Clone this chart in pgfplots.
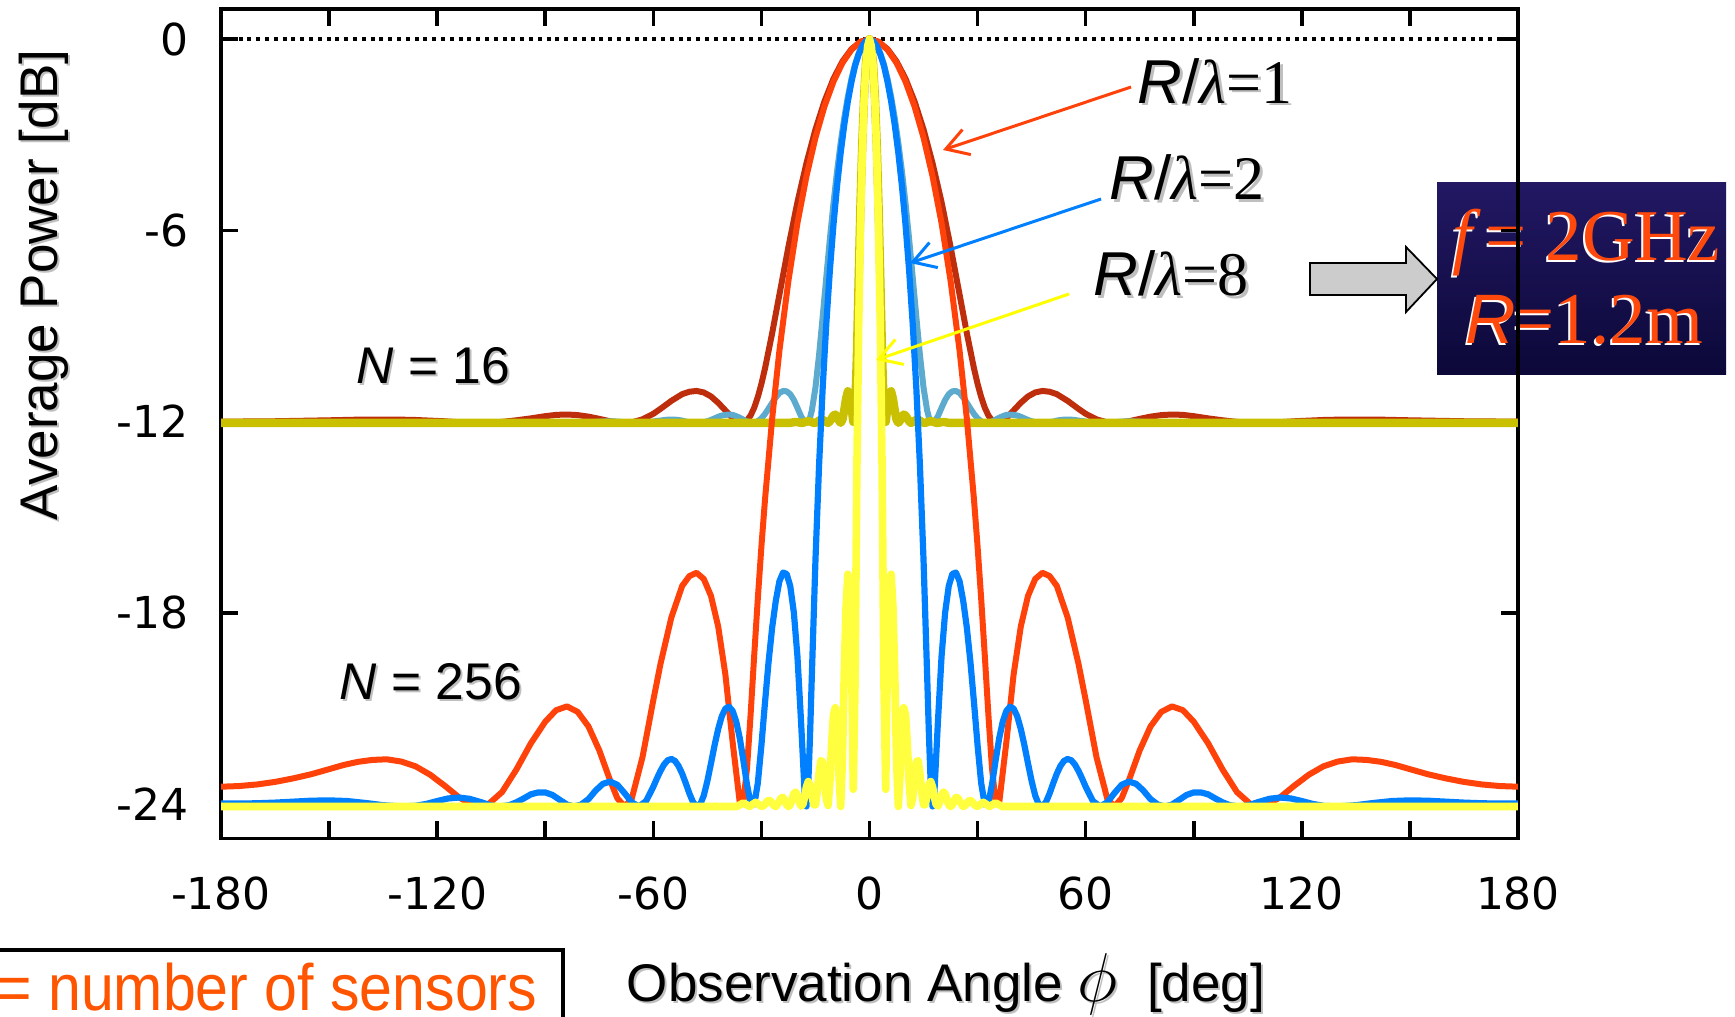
\documentclass[border=0pt]{standalone}
\usepackage{pgfplots}
\pgfplotsset{compat=1.18}
\usepackage{pgfplotstable}
\usepackage{fontspec}
\setmainfont{Liberation Sans}
\newfontfamily\dejavu{DejaVu Sans}
\newfontfamily\serifA{Liberation Serif}
\newfontfamily\legfont[FakeStretch=0.9]{Liberation Sans}
\usetikzlibrary{arrows.meta}

\definecolor{redA}{RGB}{255,66,10}
\definecolor{redB}{RGB}{190,45,12}
\definecolor{blueA}{RGB}{0,128,255}
\definecolor{blueB}{RGB}{92,170,205}
\definecolor{yelA}{RGB}{255,255,64}
\definecolor{yelB}{RGB}{200,192,0}
\definecolor{navyT}{RGB}{34,24,100}
\definecolor{navyB}{RGB}{12,8,56}
\definecolor{boxor}{RGB}{255,72,12}
\definecolor{legor}{RGB}{255,84,0}
\definecolor{arrgray}{RGB}{204,204,204}
\definecolor{arrY}{RGB}{255,255,0}

% phi = observation angle (deg, >=0 half), a = N=256, b = N=16 (dB)
\pgfplotstableread{
phi a b
0 0 0
2.5 -0.082 -0.077
5 -0.329 -0.309
7.5 -0.741 -0.694
10 -1.330 -1.240
12.5 -2.108 -1.951
15 -3.089 -2.832
17.5 -4.302 -3.890
20 -5.769 -5.112
22.5 -7.578 -6.513
25 -9.771 -8.012
27 -11.888 -9.217
29 -14.442 -10.330
30 -15.92 -10.815
31 -17.56 -11.23
32 -19.34 -11.563
33 -21.20 -11.81
34 -22.88 -11.96
35 -23.94 -12.03
36 -23.97 -12.03
38 -22.05 -11.89
40 -19.94 -11.65
42 -18.43 -11.41
44 -17.47 -11.21
46 -16.94 -11.086
48 -16.745 -11.038
50 -16.85 -11.064
52 -17.16 -11.14
55 -18.15 -11.35
58 -19.60 -11.60
60 -20.74 -11.756
63 -22.53 -11.93
66 -23.84 -12.026
68 -24.08 -12.04
70 -23.82 -12.02
72 -23.26 -11.99
75 -22.32 -11.915
78 -21.57 -11.845
81 -21.11 -11.797
84 -20.94 -11.778
87 -21.06 -11.79
90 -21.42 -11.83
94 -22.10 -11.90
98 -22.92 -11.96
102 -23.63 -12.01
106 -24.03 -12.04
108 -24.08 -12.04
110 -24.05 -12.04
114 -23.79 -12.02
118 -23.42 -11.99
122 -23.08 -11.97
126 -22.82 -11.95
130 -22.67 -11.94
134 -22.60 -11.94
138 -22.62 -11.94
142 -22.68 -11.94
146 -22.78 -11.95
150 -22.91 -11.96
155 -23.07 -11.97
160 -23.20 -11.98
165 -23.31 -11.99
170 -23.39 -11.99
175 -23.44 -12.00
180 -23.46 -12.00
}\redtab

\pgfplotstableread{
phi a b
0 0 0
1 -0.052 -0.049
2 -0.209 -0.196
3 -0.472 -0.443
4 -0.829 -0.791
5 -1.332 -1.241
6 -1.942 -1.801
7 -2.681 -2.468
8 -3.562 -3.249
9 -4.599 -4.142
10 -5.820 -5.153
11 -7.255 -6.273
12 -8.949 -7.478
13 -10.956 -8.718
14 -13.378 -9.911
15 -16.349 -10.934
16 -19.96 -11.652
16.5 -21.84 -11.87
17 -23.40 -12.00
17.5 -24.08 -12.04
18 -23.67 -12.02
19 -21.41 -11.83
20 -19.37 -11.57
21 -17.99 -11.32
22 -17.16 -11.14
23 -16.78 -11.05
24 -16.74 -11.04
25 -17.01 -11.10
26 -17.62 -11.24
27 -18.45 -11.41
28 -19.53 -11.59
29 -20.81 -11.76
30 -22.16 -11.90
31 -23.35 -11.99
32 -24.02 -12.04
33 -23.97 -12.03
34 -23.40 -12.00
35 -22.64 -11.94
36 -21.94 -11.88
37 -21.41 -11.83
38 -21.08 -11.79
39 -20.95 -11.78
40 -21.01 -11.79
41 -21.25 -11.81
42 -21.65 -11.85
43 -22.16 -11.90
44 -22.73 -11.95
45 -23.28 -11.99
46 -23.74 -12.02
47 -24.02 -12.04
48 -24.07 -12.04
49 -23.94 -12.03
50 -23.67 -12.02
51 -23.35 -12.00
52 -23.05 -11.97
53 -22.81 -11.95
54 -22.65 -11.94
55 -22.59 -11.94
56 -22.63 -11.94
57 -22.76 -11.95
58 -22.96 -11.97
59 -23.20 -11.98
60 -23.46 -12.00
62 -23.91 -12.03
64 -24.08 -12.04
66 -23.95 -12.03
68 -23.66 -12.02
70 -23.40 -12.00
72 -23.30 -11.99
74 -23.37 -12.00
76 -23.58 -12.01
78 -23.85 -12.03
80 -24.02 -12.04
82 -24.08 -12.04
84 -24.02 -12.04
86 -23.87 -12.03
88 -23.72 -12.02
90 -23.64 -12.02
92 -23.64 -12.02
94 -23.70 -12.02
96 -23.83 -12.03
98 -23.95 -12.03
100 -24.04 -12.04
102.6 -24.08 -12.04
105 -24.05 -12.04
108 -23.94 -12.03
111 -23.84 -12.03
114 -23.80 -12.03
117 -23.83 -12.03
120 -23.91 -12.03
123 -24.00 -12.04
126 -24.06 -12.04
129.8 -24.08 -12.04
135 -24.04 -12.04
140 -23.97 -12.04
145 -23.91 -12.03
150 -23.89 -12.03
155 -23.90 -12.03
160 -23.93 -12.03
165 -23.96 -12.04
170 -23.98 -12.04
175 -23.99 -12.04
180 -23.99 -12.04
}\bluetab

\pgfplotstableread{
phi a b
0 0 0
0.5 -0.209 -0.196
1 -0.829 -0.791
1.5 -1.943 -1.802
2 -3.57 -3.26
2.5 -5.84 -5.17
3 -8.99 -7.50
3.5 -13.46 -9.95
4 -20.13 -11.68
4.5 -23.54 -12.01
5 -19.20 -11.54
5.5 -17.10 -11.12
6 -16.79 -11.05
6.5 -17.78 -11.28
7 -19.85 -11.64
7.5 -22.59 -11.94
8 -24.08 -12.04
8.5 -23.03 -11.97
9 -21.62 -11.85
9.5 -20.98 -11.78
10 -21.20 -11.81
10.5 -22.12 -11.90
11 -23.33 -11.99
11.5 -24.05 -12.04
12 -23.84 -12.02
12.5 -23.16 -11.98
13 -22.68 -11.94
13.5 -22.64 -11.94
14 -23.05 -11.97
14.5 -23.62 -12.01
15 -24.03 -12.04
15.5 -24.02 -12.04
16 -23.71 -12.02
16.5 -23.39 -12.00
17 -23.30 -11.99
17.5 -23.47 -12.00
18 -23.78 -12.02
18.5 -24.02 -12.04
19 -24.07 -12.04
19.5 -23.93 -12.03
20 -23.73 -12.02
20.5 -23.63 -12.01
21 -23.68 -12.02
21.5 -23.86 -12.03
22 -24.03 -12.04
22.5 -24.08 -12.04
23 -24.03 -12.04
23.5 -23.89 -12.04
24 -23.80 -12.04
24.5 -23.81 -12.04
25 -23.91 -12.04
25.5 -24.00 -12.04
26 -24.08 -12.04
26.5 -24.05 -12.04
27 -23.99 -12.04
27.5 -23.91 -12.04
28 -23.89 -12.04
28.5 -23.93 -12.04
29 -24.01 -12.04
29.5 -24.06 -12.04
30 -24.08 -12.04
31.6 -23.95 -12.04
33.3 -24.08 -12.04
35 -23.97 -12.04
36.8 -24.08 -12.04
180 -24.08 -12.04
}\yeltab

\newcommand\rl[1]{{\itshape R}/{\serifA\itshape λ}{\serifA =#1}}

\begin{document}
\begin{tikzpicture}
\useasboundingbox (0,0) rectangle (433.75pt,-254.25pt);
\clip (0,0) rectangle (433.75pt,-254.25pt);

% ---------- things under the axis (coordinates in image pixels) ----------
\begin{scope}[x=0.25pt,y=-0.25pt]
  \shade[top color=navyT, bottom color=navyB] (1437,182) rectangle (1726,374);
  \begin{scope}[every node/.style={anchor=base west, inner sep=0}]
    \node[text=white, font=\serifA\itshape\fontsize{18.25}{20}\selectfont] at (1450,262) {f};
    \node[text=white, font=\serifA\fontsize{18.25}{20}\selectfont] at (1483,262) {=};
    \node[text=white, font=\serifA\fontsize{18.25}{20}\selectfont] at (1543,262) {2GHz};
    \node[text=white, font=\itshape\fontsize{17.5}{20}\selectfont] at (1463,345) {R};
    \node[text=white, font=\serifA\fontsize{18.25}{20}\selectfont] at (1511,345) {=1.2m};
    \node[text=boxor, font=\serifA\itshape\fontsize{18.25}{20}\selectfont] at (1452,260) {f};
    \node[text=boxor, font=\serifA\fontsize{18.25}{20}\selectfont] at (1485,260) {=};
    \node[text=boxor, font=\serifA\fontsize{18.25}{20}\selectfont] at (1545,260) {2GHz};
    \node[text=boxor, font=\itshape\fontsize{17.5}{20}\selectfont] at (1465,343) {R};
    \node[text=boxor, font=\serifA\fontsize{18.25}{20}\selectfont] at (1513,343) {=1.2m};
  \end{scope}
  \filldraw[fill=arrgray, draw=black, line width=0.45pt, line join=miter]
    (1310,263) -- (1406,263) -- (1406,247) -- (1437,279) -- (1406,312) -- (1406,295) -- (1310,295) -- cycle;
  \draw[line width=0.8pt] (-40,950) -- (563,950) -- (563,1060);
  \node[anchor=base east, inner sep=0, text=legor, font=\legfont\fontsize{16.4}{19}\selectfont] at (538,1010) {\textit{N} = number of sensors};
\end{scope}

\begin{axis}[
  at={(55.25pt,-209.575pt)}, anchor=south west,
  scale only axis, width=324.25pt, height=207.25pt,
  xmin=-180, xmax=180, ymin=-25.08, ymax=0.94,
  xtick={-180,-150,...,180},
  xticklabels={-180,,-120,,-60,,0,,60,,120,,180},
  ytick={-24,-18,-12,-6,0},
  yticklabels={-24,-18,-12,-6,0},
  tick align=inside,
  major tick length=4.25pt,
  axis line style={line width=0.9pt},
  tick style={black, line width=0.9pt},
  xticklabel style={font=\dejavu\fontsize{11}{13}\selectfont, yshift=-6.1pt},
  yticklabel style={font=\dejavu\fontsize{11}{13}\selectfont, xshift=-4.6pt},
  every axis plot/.append style={line join=round, line cap=round},
]
\addplot[black, line width=1pt, dash pattern=on 1pt off 1.2pt, line cap=butt] coordinates {(-180,0) (180,0)};
% N = 16
\addplot[redB, line width=1.5pt] table[x=phi, y=b] {\redtab};
\addplot[redB, line width=1.5pt] table[x expr=-\thisrow{phi}, y=b] {\redtab};
\addplot[blueB, line width=1.5pt] table[x=phi, y=b] {\bluetab};
\addplot[blueB, line width=1.5pt] table[x expr=-\thisrow{phi}, y=b] {\bluetab};
\addplot[yelB, line width=2.1pt] table[x=phi, y=b] {\yeltab};
\addplot[yelB, line width=2.1pt] table[x expr=-\thisrow{phi}, y=b] {\yeltab};
% N = 256
\addplot[redA, line width=1.5pt] table[x=phi, y=a] {\redtab};
\addplot[redA, line width=1.5pt] table[x expr=-\thisrow{phi}, y=a] {\redtab};
\addplot[blueA, line width=1.55pt] table[x=phi, y=a] {\bluetab};
\addplot[blueA, line width=1.55pt] table[x expr=-\thisrow{phi}, y=a] {\bluetab};
\addplot[yelA, line width=1.9pt] table[x=phi, y=a] {\yeltab};
\addplot[yelA, line width=1.9pt] table[x expr=-\thisrow{phi}, y=a] {\yeltab};
\end{axis}

% ---------- annotations over the axis ----------
\begin{scope}[x=0.25pt,y=-0.25pt]
  \node[anchor=base, inner sep=0, rotate=90, text=black!25, font=\fontsize{13.25}{16}\selectfont] at (59,287) {Average Power [dB]};
  \node[anchor=base, inner sep=0, rotate=90, font=\fontsize{13.25}{16}\selectfont] at (57,285) {Average Power [dB]};
  \node[anchor=base west, inner sep=0, text=black!25, font=\fontsize{13.25}{16}\selectfont] at (628,1003) {Observation Angle {\fontsize{17}{17}\selectfont$\phi$}\ \ [deg]};
  \node[anchor=base west, inner sep=0, font=\fontsize{13.25}{16}\selectfont] at (626,1001) {Observation Angle {\fontsize{17}{17}\selectfont$\phi$}\ \ [deg]};

  \node[anchor=base west, inner sep=0, text=black!25, font=\fontsize{12.9}{15}\selectfont] at (358,385) {\textit{N} = 16};
  \node[anchor=base west, inner sep=0, font=\fontsize{12.9}{15}\selectfont] at (356,383) {\textit{N} = 16};
  \node[anchor=base west, inner sep=0, text=black!25, font=\fontsize{12.9}{15}\selectfont] at (341,701) {\textit{N} = 256};
  \node[anchor=base west, inner sep=0, font=\fontsize{12.9}{15}\selectfont] at (339,699) {\textit{N} = 256};

  \draw[redA, line width=0.75pt, -{Straight Barb[length=5.5pt,width=6.6pt]}] (1131,87) -- (943,150);
  \draw[blueA, line width=0.75pt, -{Straight Barb[length=5.5pt,width=6.6pt]}] (1101,199) -- (910,263);
  \draw[arrY, line width=0.75pt, -{Straight Barb[length=5.5pt,width=6.6pt]}] (1069,294) -- (876,360);

  \node[anchor=base west, inner sep=0, text=black!25, font=\fontsize{15.5}{17}\selectfont] at (1140,106) {\rl{1}};
  \node[anchor=base west, inner sep=0, font=\fontsize{15.5}{17}\selectfont] at (1137,103) {\rl{1}};
  \node[anchor=base west, inner sep=0, text=black!25, font=\fontsize{15.5}{17}\selectfont] at (1112,202) {\rl{2}};
  \node[anchor=base west, inner sep=0, font=\fontsize{15.5}{17}\selectfont] at (1109,199) {\rl{2}};
  \node[anchor=base west, inner sep=0, text=black!25, font=\fontsize{15.5}{17}\selectfont] at (1096,298) {\rl{8}};
  \node[anchor=base west, inner sep=0, font=\fontsize{15.5}{17}\selectfont] at (1093,295) {\rl{8}};
\end{scope}
\end{tikzpicture}
\end{document}
